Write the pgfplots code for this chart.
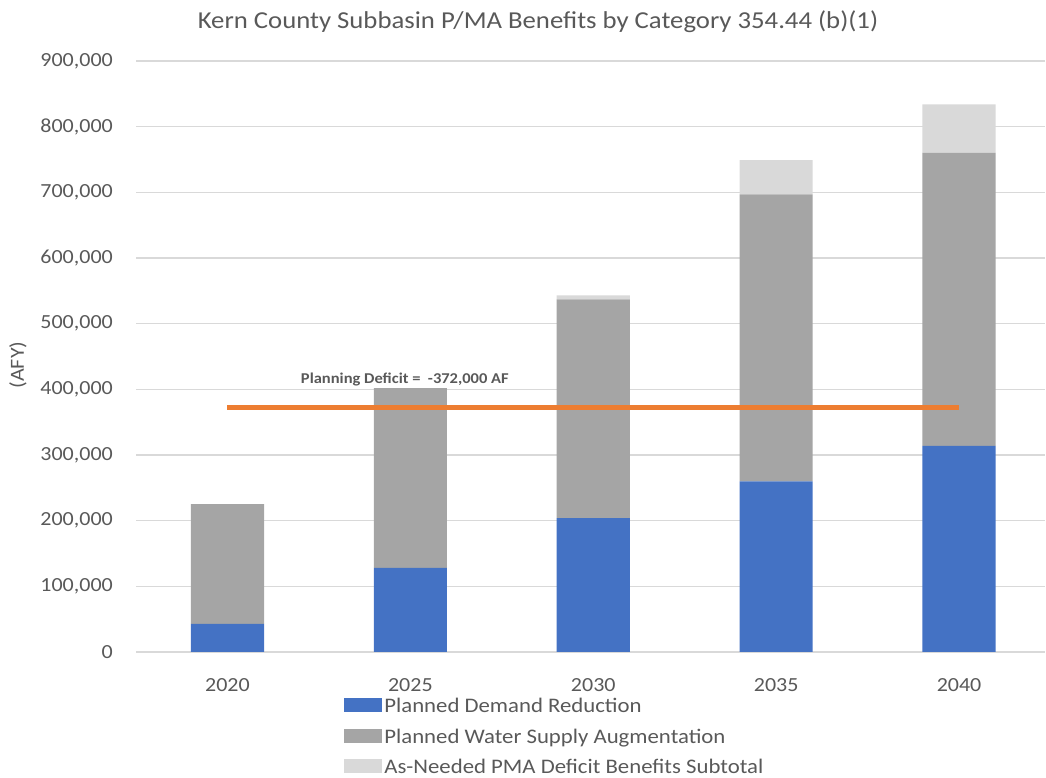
\documentclass[border=0pt]{standalone}
\usepackage{pgfplots}
\pgfplotsset{compat=1.18}
\usepackage{fontspec}
\setmainfont[FakeStretch=1.1]{Carlito}
\definecolor{cblue}{HTML}{4472C4}
\definecolor{cgray}{HTML}{A5A5A5}
\definecolor{clight}{HTML}{D9D9D9}
\definecolor{corange}{HTML}{ED7D31}
\definecolor{ctext}{HTML}{595959}
\definecolor{cgrid}{HTML}{D9D9D9}
\begin{document}
\begin{tikzpicture}[x=1pt,y=1pt]
\useasboundingbox (0,0) rectangle (1046,778);
\begin{axis}[
  at={(136pt,126pt)}, anchor=south west,
  scale only axis, width=909pt, height=591pt,
  ybar stacked, bar width=0.4,
  xmin=-0.5, xmax=4.47, ymin=0, ymax=900000,
  xtick={0,1,2,3,4}, xticklabels={2020,2025,2030,2035,2040},
  ytick={0,100000,...,900000},
  scaled y ticks=false,
  /pgf/number format/.cd, fixed, precision=0, 1000 sep={,}, assume math mode=true,
  /pgfplots/.cd,
  axis line style={draw=none},
  major tick length=0pt,
  ymajorgrids, grid style={cgrid, line width=1.3pt},
  tick label style={font=\fontsize{20}{22}\selectfont, text=ctext},
  yticklabel style={anchor=east, inner sep=0pt, xshift=-23pt},
  xticklabel style={anchor=north, inner sep=0pt, yshift=-26pt},
  legend style={at={(0.229,-0.075)}, anchor=north west, draw=none, fill=none,
    font=\fontsize{20.7}{23}\selectfont, text=ctext, row sep=10.5pt,
    cells={anchor=west}, inner sep=0pt},
  legend image code/.code={\fill[#1] (0pt,-6pt) rectangle (38pt,8pt);},
]
\addplot[fill=cblue, draw=none] coordinates {(0,43000) (1,128000) (2,204000) (3,260000) (4,314000)};
\addplot[fill=cgray, draw=none] coordinates {(0,182000) (1,274000) (2,333000) (3,437000) (4,446000)};
\addplot[fill=clight, draw=none] coordinates {(0,0) (1,0) (2,6000) (3,52000) (4,74000)};
\legend{Planned Demand Reduction, Planned Water Supply Augmentation, As-Needed PMA Deficit Benefits Subtotal}
\end{axis}
\begin{axis}[
  at={(136pt,126pt)}, anchor=south west,
  scale only axis, width=909pt, height=591pt,
  xmin=-0.5, xmax=4.47, ymin=0, ymax=900000,
  axis lines=none, clip=false,
]
\addplot[corange, line width=5pt] coordinates {(0,372000) (4,372000)};
\node[font=\bfseries\fontsize{15}{17}\selectfont, text=ctext] at (axis cs:0.97,415000) {Planning Deficit =\ \ -372,000 AF};
\end{axis}
\node[font=\fontsize{24.3}{27}\selectfont, text=ctext] at (538,756) {Kern County Subbasin P/MA Benefits by Category 354.44 (b)(1)};
\node[font=\fontsize{20}{22}\selectfont, text=ctext, rotate=90] at (18,413) {(AFY)};
\end{tikzpicture}
\end{document}
